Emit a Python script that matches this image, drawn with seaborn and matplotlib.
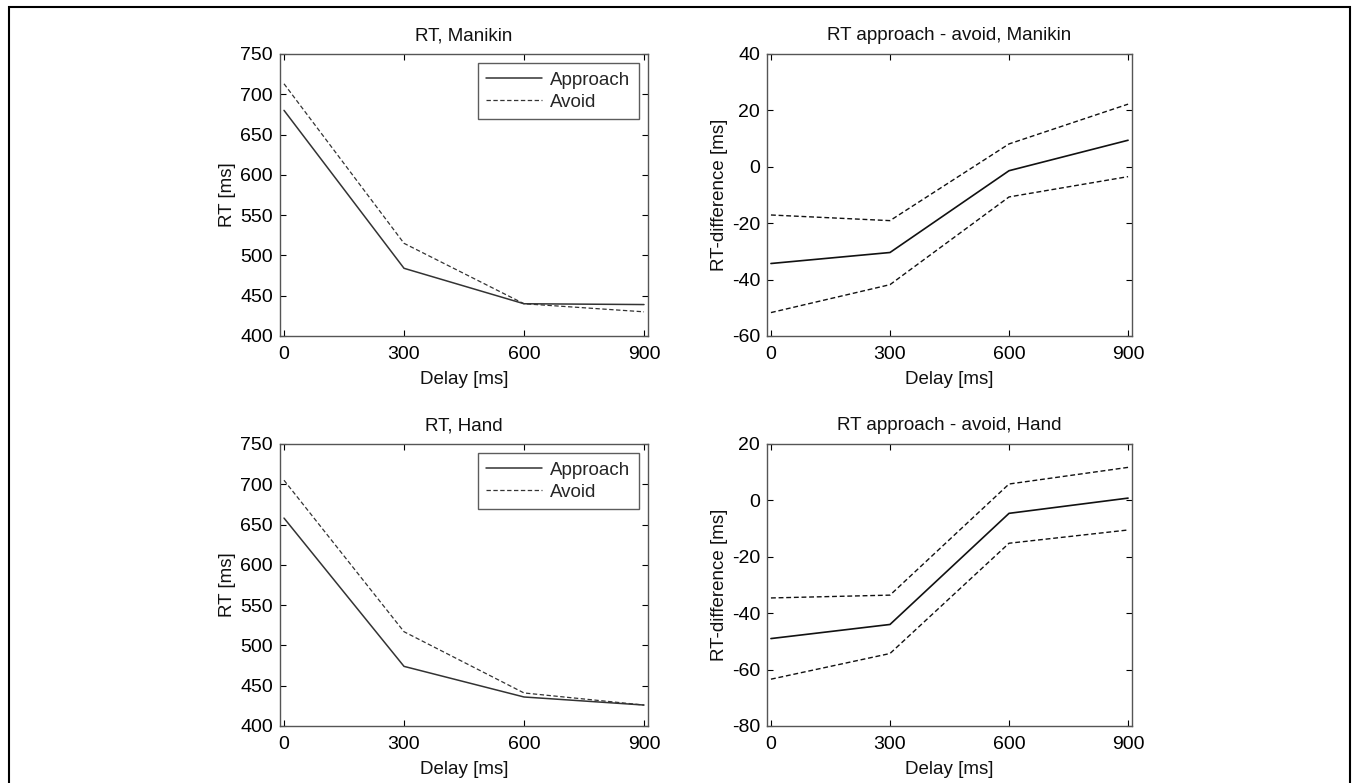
import matplotlib
matplotlib.use("Agg")
import matplotlib.pyplot as plt
import seaborn as sns
import pandas as pd
from matplotlib.patches import Rectangle

sns.set_theme(style="white")
plt.rcParams['font.family'] = ['Liberation Sans', 'DejaVu Sans']
plt.rcParams['axes.unicode_minus'] = False

delay = [0, 300, 600, 900]

manikin_approach = [680, 484, 440, 439]
manikin_avoid = [713, 515, 440, 430]
manikin_diff = [-34.3, -30.4, -1.4, 9.4]
manikin_diff_upper = [-17.1, -19.1, 8.1, 22.2]
manikin_diff_lower = [-51.7, -41.8, -10.7, -3.5]

hand_approach = [658, 474, 436, 426]
hand_avoid = [705, 517, 441, 426]
hand_diff = [-49.0, -44.0, -4.6, 0.8]
hand_diff_upper = [-34.6, -33.6, 5.8, 11.7]
hand_diff_lower = [-63.4, -54.3, -15.2, -10.5]

titles = ["RT, Manikin", "RT approach - avoid, Manikin", "RT, Hand", "RT approach - avoid, Hand"]
xticks = [0, 300, 600, 900]

fig = plt.figure(figsize=(13.52, 7.83), dpi=100)
fig.patches.append(Rectangle((9/1352, -0.01), (1350-9)/1352, 1 - 7/783 + 0.01,
                             transform=fig.transFigure, fill=False, edgecolor='black', lw=1.5))

pos = {
    0: [0.2071, 0.5709, 0.2722, 0.3602],
    1: [0.5673, 0.5709, 0.2700, 0.3602],
    2: [0.2071, 0.0728, 0.2722, 0.3602],
    3: [0.5673, 0.0728, 0.2700, 0.3602],
}
axes = [fig.add_axes(pos[i]) for i in range(4)]

def style_ax(ax, title, ylabel, ylim, yticks):
    ax.set_xlim(-10, 910)
    ax.set_ylim(*ylim)
    ax.set_xticks(xticks)
    ax.set_yticks(yticks)
    ax.set_title(title, fontsize=13.5, pad=10, color='#111111')
    ax.set_xlabel("Delay [ms]", fontsize=13.5, labelpad=6, color='#111111')
    ax.set_ylabel(ylabel, fontsize=13.5, labelpad=3, color='#111111')
    ax.tick_params(direction='in', length=4, width=0.8, top=True, right=True,
                   labelsize=14, colors='black', pad=5, bottom=True, left=True)
    ax.tick_params(axis='x', pad=7)
    for s in ax.spines.values():
        s.set_color('#555555')
        s.set_linewidth(1.0)

# RT panels
for ax, appr, avoid, title in [(axes[0], manikin_approach, manikin_avoid, titles[0]),
                                (axes[2], hand_approach, hand_avoid, titles[2])]:
    df = pd.DataFrame({"Delay": delay, "Approach": appr, "Avoid": avoid})
    sns.lineplot(data=df, x="Delay", y="Approach", ax=ax, color='#333333', lw=1.1,
                 label="Approach")
    sns.lineplot(data=df, x="Delay", y="Avoid", ax=ax, color='#333333', lw=0.9,
                 linestyle=(0, (3.5, 2)), label="Avoid")
    style_ax(ax, title, "RT [ms]", (400, 750), [400, 450, 500, 550, 600, 650, 700, 750])
    leg = ax.legend(loc='upper right', fontsize=13.5, frameon=True, fancybox=False,
                    edgecolor='#333333', borderpad=0.45, handlelength=3.0,
                    labelspacing=0.25, handletextpad=0.4, borderaxespad=0.5)
    leg.get_frame().set_linewidth(1.0)

# Difference panels
for ax, m, u, l, title, ylim, yt in [
        (axes[1], manikin_diff, manikin_diff_upper, manikin_diff_lower, titles[1], (-60, 40), [-60, -40, -20, 0, 20, 40]),
        (axes[3], hand_diff, hand_diff_upper, hand_diff_lower, titles[3], (-80, 20), [-80, -60, -40, -20, 0, 20])]:
    df = pd.DataFrame({"Delay": delay, "mean": m, "upper": u, "lower": l})
    sns.lineplot(data=df, x="Delay", y="mean", ax=ax, color='#111111', lw=1.2)
    sns.lineplot(data=df, x="Delay", y="upper", ax=ax, color='#111111', lw=1.0,
                 linestyle=(0, (3.5, 2)))
    sns.lineplot(data=df, x="Delay", y="lower", ax=ax, color='#111111', lw=1.0,
                 linestyle=(0, (3.5, 2)))
    style_ax(ax, title, "RT-difference [ms]", ylim, yt)

fig.savefig("out.png", dpi=100)
